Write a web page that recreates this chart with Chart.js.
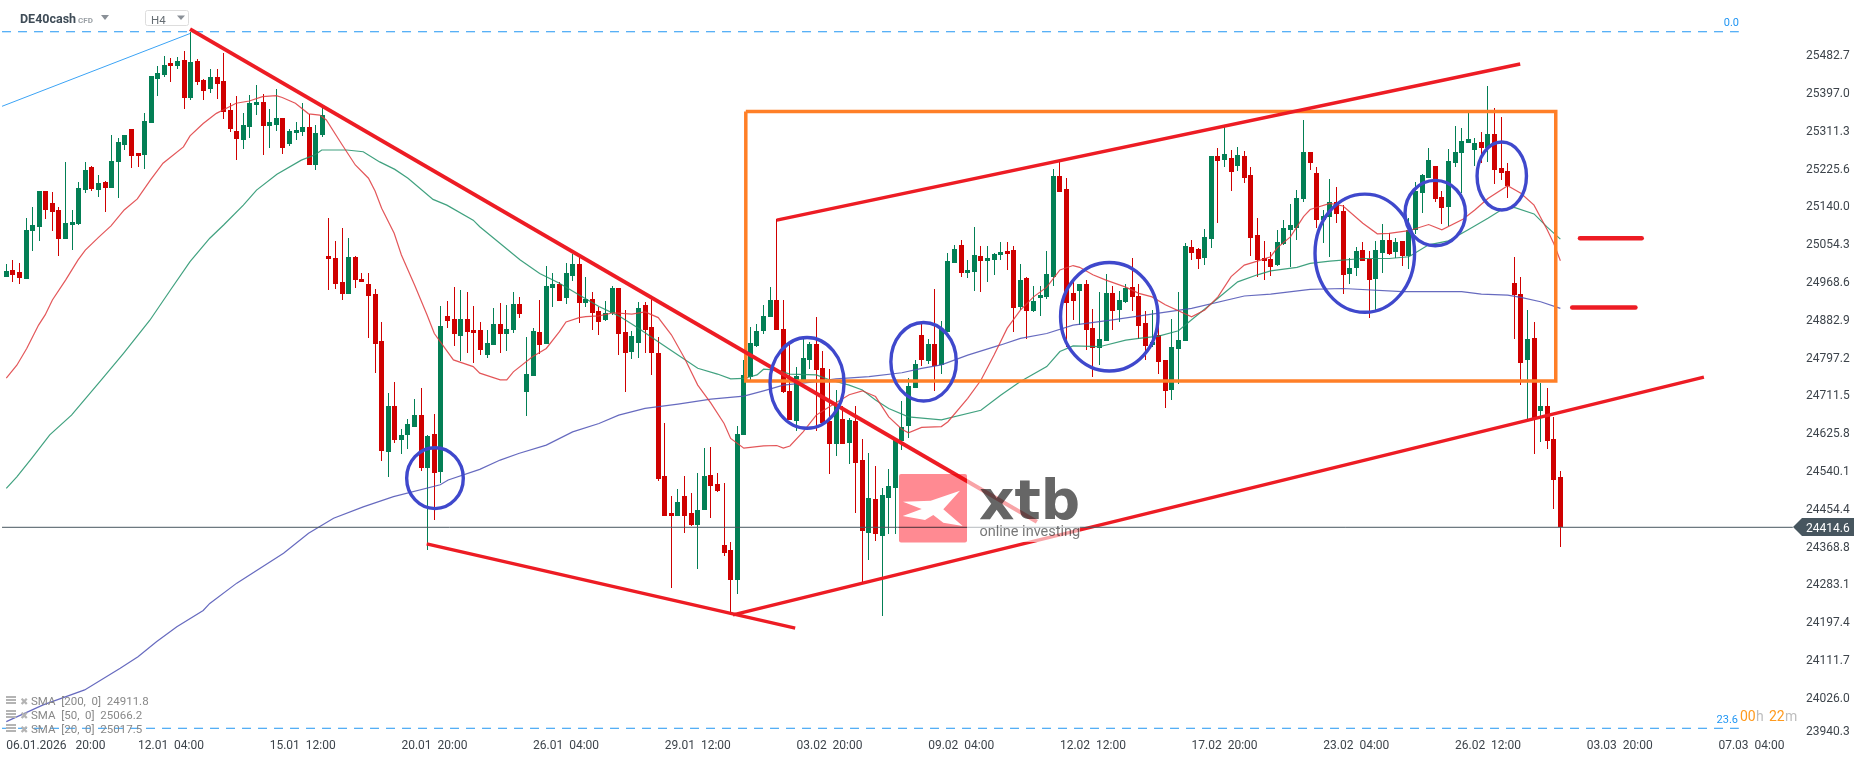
<!DOCTYPE html>
<html>
<head>
<meta charset="utf-8">
<title>DE40cash H4</title>
<script src="https://cdn.jsdelivr.net/npm/chart.js@4"></script>
<style>
    html, body { margin: 0; padding: 0; background: #fff; overflow: hidden; }
    canvas { display: block; }
</style>
</head>
<body>
<canvas id="priceChart" width="1866" height="761"></canvas>
<script>
// ==========================================
// DATA
// ==========================================
const opens = [
    24983,24998,24993,24978,25086,25095,25177,25150,25134,25068,
    25100,25102,25179,25231,25179,25197,25184,25243,25281,25318,
    25263,25259,25331,25431,25440,25467,25460,25474,25388,25472,
    25429,25408,25435,25426,25361,25313,25293,25322,25372,25379,
    25324,25327,25342,25283,25308,25311,25322,25236,25304,25030,
    25025,24971,24943,25027,24978,24966,24943,24837,24586,24690,
    24612,24624,24642,24669,24549,24626,24540,24894,24887,24848,
    24887,24862,24862,24805,24828,24875,24853,24862,24921,24721,
    24758,24857,24830,24957,24966,24934,24984,25012,24923,24932,
    24905,24885,24900,24957,24857,24812,24832,24919,24869,24810,
    24531,24447,24440,24486,24447,24420,24454,24533,24513,24375,
    24363,24295,24624,24755,24826,24860,24891,24930,24864,24724,
    24656,24749,24794,24830,24776,24656,24603,24660,24606,24656,
    24567,24402,24479,24395,24481,24504,24610,24644,24730,24851,
    24792,24830,24783,24857,25014,25055,24991,24993,25030,25018,
    25021,25032,25041,25043,24913,24980,24905,24934,24937,24982,
    25211,25182,24946,24950,24966,24866,24821,24837,24946,24907,
    24925,24959,24939,24878,24828,24851,24794,24726,24819,24837,
    25050,25045,25025,25068,25256,25247,25252,25234,25256,25213,
    25077,25025,25023,25009,25057,25089,25093,25159,25265,25218,
    25111,25118,25152,25132,24989,25002,25043,25023,24977,25036,
    25066,25039,25064,25030,25089,25172,25206,25234,25163,25141,
    25240,25263,25286,25270,25288,25274,25306,25229,25222,24968,
    24944,24794,24844,24678,24690,24615,24529
];
const highs = [
    25011,25021,25013,25115,25140,25177,25177,25175,25140,25242,
    25135,25197,25242,25234,25213,25200,25304,25297,25304,25318,
    25263,25354,25438,25460,25483,25479,25481,25494,25537,25476,
    25431,25454,25454,25490,25377,25392,25354,25395,25417,25397,
    25363,25408,25342,25318,25333,25377,25352,25327,25365,25116,
    25064,25093,25070,25030,24991,24991,24955,24880,24718,24744,
    24637,24660,24705,24730,24624,24671,24916,24928,24959,24953,
    24948,24916,24880,24862,24912,24923,24919,24948,24937,24846,
    24866,24930,25007,24991,24971,25013,25034,25032,24982,24948,
    24914,24928,24962,24957,24907,24860,24925,24925,24932,24846,
    24651,24486,24501,24531,24492,24538,24594,24597,24538,24515,
    24381,24644,24794,24869,24875,24919,24959,25113,24930,24830,
    24778,24842,24835,24891,24814,24774,24726,24690,24662,24690,
    24615,24583,24554,24504,24547,24617,24701,24753,24794,24875,
    24842,24955,24882,25036,25055,25066,25021,25095,25052,25052,
    25036,25061,25061,25052,25011,24982,24962,24962,25041,25227,
    25247,25206,24980,24966,24975,24909,24948,24989,24962,24950,
    24966,25025,24966,24905,24907,24878,24794,24887,24948,25059,
    25066,25048,25091,25256,25274,25322,25270,25277,25268,25231,
    25116,25064,25039,25089,25111,25148,25179,25338,25265,25231,
    25134,25204,25186,25145,25025,25050,25061,25041,25064,25102,
    25082,25070,25064,25116,25197,25215,25274,25234,25177,25272,
    25324,25320,25354,25297,25311,25415,25365,25345,25240,25027,
    24982,24907,24880,24742,24730,24665,24542
];
const lows = [
    24983,24971,24966,24978,25041,25064,25113,25086,25030,25068,
    25043,25100,25172,25177,25163,25129,25184,25161,25270,25229,
    25231,25227,25331,25392,25435,25424,25454,25363,25383,25417,
    25383,25399,25386,25340,25311,25247,25272,25297,25349,25259,
    25274,25313,25261,25279,25293,25302,25236,25225,25299,24953,
    24955,24930,24943,24957,24971,24844,24764,24566,24529,24606,
    24581,24592,24642,24543,24363,24431,24514,24866,24826,24792,
    24810,24787,24805,24798,24828,24809,24814,24855,24889,24667,
    24758,24807,24830,24914,24928,24921,24973,24878,24914,24862,
    24851,24882,24896,24805,24721,24796,24798,24810,24760,24520,
    24440,24277,24440,24402,24418,24320,24454,24436,24495,24350,
    24216,24263,24624,24749,24823,24853,24891,24862,24719,24658,
    24633,24749,24774,24633,24647,24535,24576,24603,24558,24447,
    24291,24340,24384,24214,24399,24399,24590,24617,24730,24780,
    24785,24724,24762,24857,25014,24982,24980,24950,24948,24971,
    24987,25021,24998,24857,24907,24842,24903,24894,24932,24962,
    25175,24823,24885,24873,24817,24755,24782,24837,24862,24880,
    24923,24905,24841,24794,24824,24762,24685,24703,24739,24837,
    25021,25000,25009,25048,25104,25231,25177,25222,25195,25030,
    24982,24975,24984,25007,25055,25005,25066,25152,25225,25093,
    25059,25027,25104,24944,24966,24984,25018,24889,24907,24991,
    25032,25025,25007,25000,25079,25127,25206,25152,25102,25098,
    25231,25172,25286,25234,25240,25243,25193,25202,25161,24842,
    24737,24658,24581,24608,24592,24456,24371
];
const closes = [
    24996,24987,24980,25089,25100,25177,25134,25129,25068,25104,
    25107,25184,25225,25181,25195,25184,25245,25288,25304,25256,
    25256,25336,25438,25445,25463,25460,25472,25388,25469,25424,
    25404,25435,25420,25356,25318,25295,25327,25377,25379,25324,
    25333,25342,25274,25313,25315,25322,25236,25308,25349,25023,
    24966,24943,25027,24975,24971,24939,24830,24588,24690,24612,
    24624,24649,24669,24549,24622,24538,24871,24882,24853,24887,
    24857,24855,24817,24832,24875,24853,24864,24921,24898,24762,
    24860,24828,24962,24966,24928,24991,25012,24923,24932,24900,
    24880,24900,24957,24853,24810,24848,24912,24862,24810,24524,
    24440,24440,24472,24440,24420,24454,24531,24508,24497,24356,
    24295,24626,24760,24832,24860,24894,24930,24862,24721,24658,
    24758,24798,24830,24771,24651,24603,24692,24603,24658,24560,
    24406,24481,24399,24488,24508,24613,24642,24735,24785,24794,
    24830,24780,24864,25018,25046,24991,24998,25032,25018,25025,
    25034,25039,25034,24912,24975,24905,24928,24941,24989,25211,
    25175,24922,24928,24966,24862,24821,24841,24946,24905,24930,
    24957,24937,24871,24826,24835,24789,24724,24823,24839,25052,
    25036,25023,25073,25256,25245,25261,25220,25259,25206,25070,
    25021,25018,25005,25061,25093,25100,25161,25265,25240,25111,
    25120,25152,25125,24987,25002,25041,25018,24975,25043,25066,
    25034,25061,25030,25089,25177,25213,25247,25159,25138,25245,
    25265,25290,25295,25286,25274,25306,25225,25218,25188,24941,
    24787,24842,24660,24690,24610,24522,24415
];

// moving averages as [candle, price] readings
const sma20 = [
    [0,24753],[1.6,24782],[3.1,24820],[4.9,24873],[5.9,24896],[7,24930],[9,24975],[10.9,25021],[12,25043],[14,25072],
    [15.9,25098],[17.9,25134],[19.9,25159],[21.9,25202],[23.8,25240],[26.9,25277],[27.9,25302],[29.9,25330],[31.9,25353],[33,25361],
    [34.9,25376],[36.9,25381],[38.9,25391],[41,25393],[41.9,25389],[43.9,25376],[45.9,25352],[47.6,25349],[48.6,25338],[50.9,25284],
    [53,25236],[55,25206],[56,25177],[57,25138],[58.9,25081],[60,25032],[62,24964],[63.9,24896],[65,24854],[67.9,24794],
    [70.9,24779],[71.9,24764],[75,24749],[76,24749],[77,24767],[79.9,24801],[82,24820],[84,24858],[85,24880],[87,24890],
    [88,24892],[90,24894],[92.2,24901],[95,24898],[97,24903],[99,24890],[101,24851],[103,24798],[105,24737],[107,24696],
    [109,24650],[110,24616],[112,24594],[115,24599],[117,24600],[118,24594],[119,24599],[121,24631],[123,24669],[125,24688],
    [128,24715],[130,24724],[132,24711],[134,24665],[136,24637],[137,24629],[139,24641],[142,24643],[143,24654],[146,24707],
    [148,24748],[150,24805],[152,24866],[154,24907],[156,24937],[158,24959],[160,24998],[162,25008],[163,25004],[165,24987],
    [167,24975],[170,24959],[172,24945],[174,24937],[176,24919],[180,24892],[182,24907],[184,24937],[186,24983],[188,25009],
    [190,25018],[192,25028],[193,25048],[195,25073],[197,25119],[198,25135],[201,25149],[203,25143],[206,25104],[208.2,25080],
    [210,25081],[213,25087],[216,25101],[218,25089],[221.2,25113],[223,25134],[225,25160],[228,25189],[230,25172],[232,25145],
    [234,25089],[235,25058],[236,25019]
];
const sma50 = [
    [0,24503],[1.6,24529],[3.85,24571],[6.6,24624],[9.9,24669],[14.4,24748],[17.8,24809],[21.8,24884],[24.9,24952],[27.9,25017],
    [30.9,25070],[33,25100],[36,25145],[38,25179],[41.1,25215],[44.8,25247],[46.9,25259],[47.9,25270],[51.7,25270],[54.2,25266],
    [56.7,25243],[59,25226],[61,25206],[64.8,25158],[66.9,25145],[70.9,25111],[71.9,25096],[75,25058],[78,25021],[81,24990],
    [84,24968],[87,24941],[90,24915],[93,24894],[96,24866],[99,24835],[102,24805],[105,24775],[108,24762],[110,24751],
    [112,24752],[114,24760],[115,24773],[117,24771],[119,24762],[123,24760],[125,24749],[128,24737],[130,24726],[132,24703],
    [134,24684],[137,24665],[142,24658],[148,24680],[151,24714],[154,24745],[158,24779],[160,24813],[162,24826],[166,24824],
    [170,24839],[172,24843],[175,24848],[178,24860],[180,24885],[184,24934],[187,24971],[190,24987],[192,24996],[196,25004],
    [198,25013],[201,25018],[206,25024],[210,25024],[213,25028],[216,25055],[219,25064],[222,25089],[225,25115],[227,25134],
    [229,25140],[232,25125],[234,25095],[236,25068]
];
const sma200 = [
    [0,23974],[5.6,24012],[11.9,24046],[17.3,24095],[20,24121],[22.8,24155],[25.9,24189],[29.9,24226],[30.9,24242],[35,24288],
    [42.1,24356],[45.9,24401],[49.7,24435],[54.2,24461],[58.8,24484],[65.9,24511],[67.1,24522],[71.9,24546],[75,24567],[77.8,24582],
    [82,24601],[86,24631],[90,24650],[93,24669],[97,24684],[102,24694],[107,24705],[112,24712],[115,24724],[118,24737],
    [123,24745],[126,24751],[131,24756],[136,24765],[139,24775],[142,24783],[146,24805],[151,24828],[154,24843],[158,24854],
    [162,24873],[168,24885],[175,24900],[180,24911],[188,24939],[192,24943],[198,24954],[203,24956],[212,24949],[221,24949],
    [224,24943],[228,24941],[230,24936],[233,24926],[236,24911]
];

// hand drawn lines, [candle, price]
const trendDown = [[27.9,25544],[156.5,24427]];
const trendLowerLeft = [[63.84,24377],[119.8,24186]];
const trendRising = [[110.35,24216],[257.8,24755]];
const trendUpper = [[117,25111],[229.9,25465]];
const levelHigh = [[238.98,25070],[248.35,25070]];
const levelLow = [[237.8,24913],[247.4,24913]];
const orangeBox = [[112.3,25357],[235.3,25357],[235.3,24746],[112.3,24746],[112.3,25357]];
const fibDiagonal = [[-0.65,25369],[27.9,25534]];
const fibZero = [[-0.65,25538],[263.1,25538]];
const fibLow = [[-0.65,23959],[263.1,23959]];
const lastPriceLine = [[-0.65,24414.6],[271.3,24414.6]];

// blue ellipses: candle, price, radius in candles, radius in price
const ellipses = [
    [65.1,24526,4.3,69],
    [121.6,24742,5.62,103],
    [139.3,24790,4.97,89],
    [167.5,24892,7.4,123],
    [206.3,25036,7.56,134],
    [217,25127,4.59,74],
    [227.1,25211,3.75,77]
];

const xTickIdx = [0,20,40,60,80,100,120,140,160,180,200,220,240,260];
const xTickLabels = [
    '06.01.2026   20:00','12.01  04:00','15.01  12:00','20.01  20:00','26.01  04:00','29.01  12:00','03.02  20:00',
    '09.02  04:00','12.02  12:00','17.02  20:00','23.02  04:00','26.02  12:00','03.03  20:00','07.03  04:00'
];
const yTickValues = [25482.7,25397,25311.3,25225.6,25140,25054.3,24968.6,24882.9,24797.2,24711.5,24625.8,24540.1,24454.4,24368.8,24283.1,24197.4,24111.7,24026,23940.3];
const legendLines = ['SMA  [200,  0]  24911.8','SMA  [50,  0]  25066.2','SMA  [20,  0]  25017.5'];
const lastPrice = 24414.6;

// ==========================================
// COLOURS
// ==========================================
const UP = '#037f55';
const DOWN = '#cf0000';
const PAINT_RED = '#ED1C24';
const PAINT_ORANGE = '#FF7F27';
const PAINT_BLUE = '#3F48CC';
const FIB_BLUE = '#2196f3';
const FONT = 'Roboto';

// ==========================================
// HELPERS
// ==========================================
const toPoints = (list) => list.map(p => ({ x: p[0], y: p[1] }));

const lineSet = (list, color, width, order, extra) => Object.assign({
    type: 'line',
    data: toPoints(list),
    borderColor: color,
    borderWidth: width,
    pointRadius: 0,
    tension: 0,
    order: order
}, extra || {});

const drawText = (ctx, text, x, y, font, color, align) => {
    ctx.font = font;
    ctx.fillStyle = color;
    ctx.textAlign = align || 'left';
    ctx.textBaseline = 'alphabetic';
    ctx.fillText(text, x, y);
};

// the scales reserve room for half a label at each end, the platform does not
const dropScalePadding = (axis) => {
    axis.paddingTop = axis.paddingBottom = axis.paddingLeft = axis.paddingRight = 0;
    axis._margins = { top: 0, bottom: 0, left: 0, right: 0 };
};

// keeps the candles on whole pixels like the original platform
const snapCandles = {
    id: 'snapCandles',
    beforeDatasetDraw(chart, args) {
        if (args.meta.type !== 'bar') return;
        args.meta.data.forEach(el => {
            el.x = Math.round(el.x - 0.5) + 0.5;
            el.y = Math.round(el.y);
            el.base = Math.round(el.base);
        });
    }
};

// ellipses, platform labels and the watermark
const overlay = {
    id: 'overlay',
    afterDatasetsDraw(chart) {
        const ctx = chart.ctx;
        const xs = chart.scales.x;
        const ys = chart.scales.y;
        ctx.save();

        // Ellipses
        ctx.strokeStyle = PAINT_BLUE;
        ctx.lineWidth = 3.4;
        ellipses.forEach(e => {
            const cx = xs.getPixelForValue(e[0]);
            const cy = ys.getPixelForValue(e[1]);
            const rx = Math.abs(xs.getPixelForValue(e[0] + e[2]) - cx);
            const ry = Math.abs(ys.getPixelForValue(e[1] + e[3]) - cy);
            ctx.beginPath();
            ctx.ellipse(cx, cy, rx, ry, 0, 0, Math.PI * 2);
            ctx.stroke();
        });

        // Watermark
        ctx.fillStyle = 'rgba(255,255,255,0.6)';
        ctx.fillRect(967, 474, 113, 68);
        ctx.globalCompositeOperation = 'multiply';
        ctx.fillStyle = '#ff8a92';
        ctx.beginPath();
        ctx.roundRect(899, 474, 68, 68.5, 2);
        ctx.fill();
        drawText(ctx, 'xtb', 979, 519, 'bold 55px "DejaVu Sans"', '#666666');
        drawText(ctx, 'online investing', 979.5, 536, '14.5px ' + FONT, '#777777');
        ctx.globalCompositeOperation = 'source-over';
        ctx.fillStyle = '#ffffff';
        ctx.beginPath();
        [[903,501.7],[930.7,500.7],[960,490.7],[943.3,509.3],[962.7,526],[943.3,522.7],[933.3,515],[925,520],[902.7,516],[921.7,509]].forEach((p, i) => {
            if (i === 0) ctx.moveTo(p[0], p[1]); else ctx.lineTo(p[0], p[1]);
        });
        ctx.closePath();
        ctx.fill();

        // Header
        drawText(ctx, 'DE40cash', 20, 23, 'bold 12.5px ' + FONT, '#3f4c57');
        drawText(ctx, 'CFD', 78, 23, 'bold 8px ' + FONT, '#9aa0a5');
        ctx.fillStyle = '#8a9097';
        ctx.beginPath(); ctx.moveTo(101, 15); ctx.lineTo(109, 15); ctx.lineTo(105, 20); ctx.closePath(); ctx.fill();
        ctx.strokeStyle = '#dddddd';
        ctx.lineWidth = 1;
        ctx.beginPath(); ctx.roundRect(145.5, 10.5, 43, 15, 2); ctx.stroke();
        drawText(ctx, 'H4', 151, 23.5, '11.5px ' + FONT, '#666d73');
        ctx.fillStyle = '#8a9097';
        ctx.beginPath(); ctx.moveTo(177, 15.5); ctx.lineTo(185, 15.5); ctx.lineTo(181, 20); ctx.closePath(); ctx.fill();

        // Fibonacci labels and candle timer
        drawText(ctx, '0.0', 1739, 26, '11px ' + FONT, FIB_BLUE, 'right');
        drawText(ctx, '23.6', 1738, 723, '11px ' + FONT, FIB_BLUE, 'right');
        drawText(ctx, '00', 1740, 721, '14px ' + FONT, '#ff9a1e');
        drawText(ctx, 'h', 1756, 721, '14px ' + FONT, '#bdbdbd');
        drawText(ctx, '22', 1769, 721, '14px ' + FONT, '#ff9a1e');
        drawText(ctx, 'm', 1785, 721, '14px ' + FONT, '#bdbdbd');

        // SMA legend
        legendLines.forEach((text, i) => {
            const y = 701 + i * 14;
            ctx.fillStyle = '#b4b4b4';
            ctx.fillRect(6, y - 5, 10, 2);
            ctx.fillRect(6, y - 2, 10, 2);
            ctx.fillRect(6, y + 1, 10, 2);
            drawText(ctx, '\u2716', 20, y + 4, '10px "DejaVu Sans"', '#b4b4b4');
            drawText(ctx, text, 31, y + 4, '11.5px ' + FONT, '#888888');
        });

        // Last price tag
        const py = Math.round(ys.getPixelForValue(lastPrice));
        ctx.fillStyle = '#47565f';
        ctx.beginPath();
        ctx.moveTo(1793, py);
        ctx.lineTo(1802, py - 9);
        ctx.lineTo(1854, py - 9);
        ctx.lineTo(1854, py + 9);
        ctx.lineTo(1802, py + 9);
        ctx.closePath();
        ctx.fill();
        drawText(ctx, lastPrice.toFixed(1), 1806, py + 5, '12px ' + FONT, '#ffffff');

        ctx.restore();
    }
};

// ==========================================
// CHART
// ==========================================
const indices = opens.map((_, i) => i);

new Chart(document.getElementById('priceChart').getContext('2d'), {
    type: 'bar',
    data: {
        datasets: [
            lineSet(lastPriceLine, '#47565f', 1, 1),
            lineSet(trendDown, PAINT_RED, 4, 2),
            lineSet(trendLowerLeft, PAINT_RED, 3.5, 2),
            lineSet(trendRising, PAINT_RED, 3.5, 2),
            lineSet(trendUpper, PAINT_RED, 3.5, 2),
            lineSet(levelHigh, PAINT_RED, 4.5, 2, { borderCapStyle: 'round' }),
            lineSet(levelLow, PAINT_RED, 4.5, 2, { borderCapStyle: 'round' }),
            lineSet(orangeBox, PAINT_ORANGE, 3.5, 3, { borderJoinStyle: 'miter' }),
            lineSet(sma20, 'rgba(222,56,60,0.85)', 1.2, 4),
            lineSet(sma50, 'rgba(30,145,105,0.85)', 1.2, 4),
            lineSet(sma200, 'rgba(75,80,180,0.85)', 1.2, 4),
            lineSet(fibDiagonal, '#3ba3f5', 1, 5),
            lineSet(fibZero, FIB_BLUE, 1, 5, { borderDash: [9, 7] }),
            lineSet(fibLow, FIB_BLUE, 1, 5, { borderDash: [9, 7] }),
            {
                // candle bodies
                data: indices.map(i => ({ x: i, y: [opens[i], closes[i]] })),
                backgroundColor: indices.map(i => closes[i] >= opens[i] ? UP : DOWN),
                barThickness: 5,
                borderWidth: 0,
                inflateAmount: 0,
                grouped: false,
                order: 6
            },
            {
                // candle wicks
                data: indices.map(i => ({ x: i, y: [lows[i], highs[i]] })),
                backgroundColor: indices.map(i => closes[i] >= opens[i] ? UP : DOWN),
                barThickness: 1,
                borderWidth: 0,
                inflateAmount: 0,
                grouped: false,
                order: 7
            }
        ]
    },
    plugins: [snapCandles, overlay],
    options: {
        responsive: false,
        animation: false,
        layout: { padding: 0, autoPadding: false },
        plugins: {
            legend: { display: false },
            tooltip: { enabled: false }
        },
        scales: {
            x: {
                type: 'linear',
                offset: false,
                min: -0.957,
                max: 272.39,
                grid: { display: false, drawTicks: false, offset: false },
                border: { display: false },
                afterBuildTicks: (axis) => { axis.ticks = xTickIdx.map(v => ({ value: v })); },
                afterFit: (axis) => { axis.height = 24; dropScalePadding(axis); },
                ticks: {
                    autoSkip: false,
                    maxRotation: 0,
                    align: 'start',
                    padding: 2,
                    color: '#3d444b',
                    font: { family: FONT, size: 12 },
                    callback: (value, index) => xTickLabels[index]
                }
            },
            y: {
                type: 'linear',
                position: 'right',
                min: 23939.2,
                max: 25610,
                grid: { display: false, drawTicks: false },
                border: { display: false },
                // the lowest label sits a few pixels higher than its value, as in the platform
                afterBuildTicks: (axis) => { axis.ticks = yTickValues.map(v => ({ value: Math.max(v, 23950) })); },
                afterFit: (axis) => { axis.width = 66; dropScalePadding(axis); },
                ticks: {
                    autoSkip: false,
                    padding: 6,
                    color: '#3d444b',
                    font: { family: FONT, size: 12 },
                    callback: (value, index) => yTickValues[index].toFixed(1)
                }
            }
        }
    }
});
</script>
</body>
</html>
